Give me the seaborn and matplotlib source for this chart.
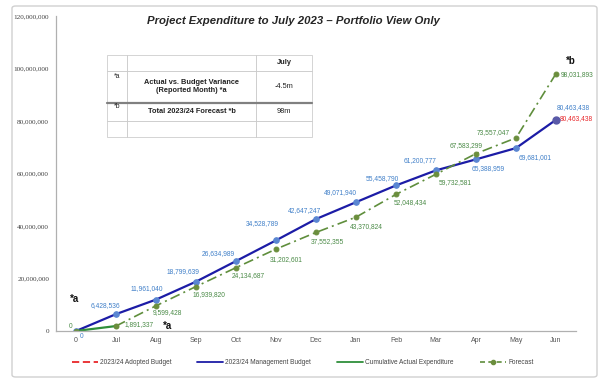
'''
Project expenditure to July 2023 - portfolio view
'''

import numpy as np
import pandas as pd
import matplotlib.pyplot as plt
import seaborn as sns
from matplotlib.patches import FancyBboxPatch
from matplotlib.lines import Line2D

# Data
months = ['0', 'Jul', 'Aug', 'Sep', 'Oct', 'Nov', 'Dec', 'Jan', 'Feb', 'Mar', 'Apr', 'May', 'Jun']
mgmt_budget = [0, 6428536, 11961040, 18799639, 26634989, 34528789, 42647247,
               49071940, 55458790, 61200777, 65388959, 69681001, 80463438]
actual = [0, 1891337] + [np.nan] * 11
forecast = [np.nan, 1891337, 9599428, 16939820, 24134687, 31202601, 37552355,
            43370824, 52048434, 59732581, 67583299, 73557047, 98031893]
adopted = [np.nan] * 12 + [80463438]
series_names = ['2023/24 Adopted Budget', '2023/24 Management Budget',
                'Cumulative Actual Expenditure', 'Forecast']

table_header = ['', '', 'July']
table_rows = [
    ['', 'Actual vs. Budget Variance\n(Reported Month) *a', '-4.5m'],
    ['', 'Total 2023/24 Forecast *b', '98m'],
    ['', '', ''],
]
row_marks = ['*a', '*b']

# label offsets in pixels (dx, dy), None = no label
mgmt_off = [(6, -5), (-11, 9), (-9, 11), (-13, 10), (-18, 8), (-14, 17), (-12, 9),
            (-16, 10), (-14, 7), (-16, 10), (12, -9), (19, -9), (17, 12)]
actual_off = [(-5, 5), (23, 1)]
fc_off = [None, None, (11, -7), (13, -8), (12, -8), (10, -10), (11, -9), (10, -9),
          (14, -8), (19, -8), (-10, 8), (-23, 5), (21, -1)]

df = pd.DataFrame({'x': np.arange(len(months)), 'mgmt': mgmt_budget,
                   'actual': actual, 'forecast': forecast, 'adopted': adopted})

sns.set_style('white')
plt.rcParams['font.family'] = ['Liberation Sans', 'DejaVu Sans']

fig = plt.figure(figsize=(6.05, 3.83), dpi=100)
ax = fig.add_axes([56 / 605, 52 / 383, 520 / 605, 315 / 383])

# outer chart frame
fig.patches.append(FancyBboxPatch((12 / 605, 6 / 383), 585 / 605, 371 / 383,
                                  boxstyle='round,pad=0,rounding_size=0.006',
                                  transform=fig.transFigure, fill=False,
                                  edgecolor='#d0d0d0', lw=1.0))

navy = '#1c1ca6'
blue_lbl = '#3f7fc8'
green = '#2f8f3a'
olive = '#5f8e3c'
green_lbl = '#4a8a46'
red = '#e8262a'
fc_dash = (0, (6, 2.5, 1.2, 2.5))

sns.lineplot(data=df, x='x', y='mgmt', ax=ax, color=navy, lw=1.6, marker='o',
             markersize=4, markerfacecolor='#5a86d2', markeredgecolor='#5a86d2')
sns.lineplot(data=df.iloc[:2], x='x', y='actual', ax=ax, color=green, lw=1.6,
             marker='o', markersize=3, markerfacecolor='#6b8e3d', markeredgecolor='#6b8e3d')
sns.lineplot(data=df.iloc[1:], x='x', y='forecast', ax=ax, color=olive, lw=1.2,
             linestyle=fc_dash, marker='o', markersize=3.5,
             markerfacecolor='#6b8e3d', markeredgecolor='#6b8e3d')
ax.plot(df['x'].iloc[-1], adopted[-1], 'o', ms=5, color='#5a5aa8', zorder=5)

# data labels
lbl_kw = dict(textcoords='offset pixels', ha='center', va='center', fontsize=4.8)
for i, v in enumerate(mgmt_budget):
    ax.annotate(f'{v:,.0f}', (i, v), xytext=mgmt_off[i], color=blue_lbl, **lbl_kw)
ax.annotate(f'{adopted[-1]:,.0f}', (12, adopted[-1]), xytext=(20, 1), color=red, **lbl_kw)
for i, off in enumerate(actual_off):
    ax.annotate(f'{actual[i]:,.0f}', (i, actual[i]), xytext=off, color=green_lbl, **lbl_kw)
for i, v in enumerate(forecast):
    if fc_off[i] is not None:
        ax.annotate(f'{v:,.0f}', (i, v), xytext=fc_off[i], color=green_lbl, **lbl_kw)

# note markers
note_kw = dict(fontsize=7, fontweight='bold', color='#111111', ha='center', va='center')
ax.annotate('*a', (0, 0), xytext=(-1, 32), textcoords='offset pixels', **note_kw)
ax.annotate('*a', (1, 0), xytext=(52, 5), textcoords='offset pixels', **note_kw)
ax.annotate('*b', (12, 98031893), xytext=(15, 13), textcoords='offset pixels', **note_kw)

# axes styling
ax.set_xlim(-0.5, len(months) - 0.5)
ax.set_ylim(0, 120000000)
ax.set_xticks(df['x'])
ax.set_xticklabels(months)
ax.set_xticks(np.arange(-0.5, len(months)), minor=True)
ax.set_yticks(np.arange(0, 120000001, 20000000))
ax.yaxis.set_major_formatter(plt.FuncFormatter(lambda v, p: f'{v:,.0f}'))
for t in ax.get_yticklabels():
    t.set_fontfamily('Liberation Serif')
ax.tick_params(axis='y', labelsize=5.2, colors='#444444', length=3, width=0.6, pad=2)
ax.tick_params(axis='x', which='major', labelsize=5, colors='#555555', length=0, pad=4)
ax.tick_params(axis='x', which='minor', length=3, width=0.6, color='#aaaaaa', direction='in')
ax.tick_params(axis='y', color='#aaaaaa')
for s in ['top', 'right']:
    ax.spines[s].set_visible(False)
for s in ['left', 'bottom']:
    ax.spines[s].set_color('#b0b0b0')
    ax.spines[s].set_linewidth(0.9)
ax.set_xlabel('')
ax.set_ylabel('')

# legend
handles = [
    Line2D([], [], color=red, lw=1.3, linestyle=(0, (4, 2))),
    Line2D([], [], color=navy, lw=1.3),
    Line2D([], [], color=green, lw=1.3),
    Line2D([], [], color=olive, lw=1.2, linestyle=(0, (3, 2)), marker='o', markersize=3,
           markerfacecolor='#6b8e3d', markeredgecolor='#6b8e3d'),
]
fig.legend(handles, series_names, loc='center', bbox_to_anchor=(0.5, 1 - 363 / 383), ncol=4,
           frameon=False, fontsize=4.7, handlelength=4, columnspacing=4,
           labelcolor='#444444', handletextpad=0.3)

# title
fig.text(0.485, 1 - 21 / 383, 'Project Expenditure to July 2023 \u2013 Portfolio View Only',
         ha='center', va='center', fontsize=8.2, fontweight='bold', fontstyle='italic')

# summary table
tx0, tw = (107 - 56) / 520, 205 / 520
ty1, ty0 = (331 - 55) / 315, (331 - 137) / 315
row_px = [16, 32, 18, 16]
tbl = ax.table(cellText=table_rows, colLabels=table_header, cellLoc='center',
               colWidths=[20 / 205, 129 / 205, 56 / 205], bbox=[tx0, ty0, tw, ty1 - ty0])
tbl.auto_set_font_size(False)
for (r, c), cell in tbl.get_celld().items():
    cell.set_height(row_px[r] / 82 * (ty1 - ty0))
    cell.set_edgecolor('#c4c4c4')
    cell.set_linewidth(0.5)
    cell.get_text().set_fontsize(5.3)
    cell.get_text().set_color('#222222')
    if c == 1 or (r == 0 and c == 2):
        cell.get_text().set_fontweight('bold')
# heavy line above the forecast row
yline = (331 - 103) / 315
ax.plot([tx0, tx0 + tw], [yline, yline], transform=ax.transAxes, color='#808080',
        lw=1.6, clip_on=False, zorder=10)
for k, m in enumerate(row_marks):
    ax.text(tx0 + 10 / 520, (331 - [76, 107][k]) / 315, m, transform=ax.transAxes,
            ha='center', va='center', fontsize=5, color='#222222', zorder=11)

plt.savefig('out.png', dpi=100)
